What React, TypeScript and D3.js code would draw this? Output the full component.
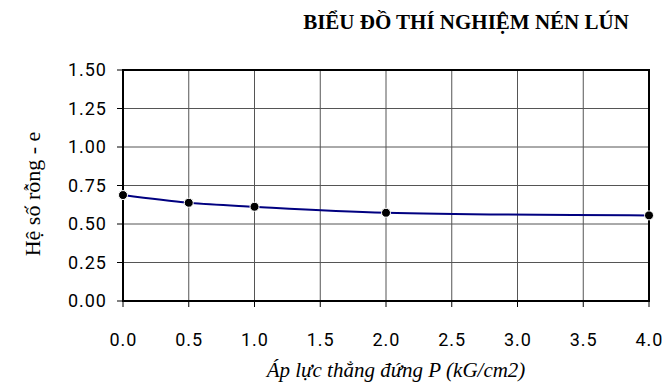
import React from "react";
import * as d3 from "d3";

const pressures = [0, 0.5, 1, 2, 4];
const voidRatios = [0.688, 0.638, 0.612, 0.573, 0.556];
const xTicks = [0, 0.5, 1, 1.5, 2, 2.5, 3, 3.5, 4];
const yTicks = [0, 0.25, 0.5, 0.75, 1, 1.25, 1.5];
const title = "BIỂU ĐỒ THÍ NGHIỆM NÉN LÚN";
const xLabel = "Áp lực thẳng đứng P (kG/cm2)";
const yLabel = "Hệ số rỗng - e";

export default function App() {
  const W = 672, H = 390;
  const left = 123, right = 649, top = 70, bottom = 301;
  const x = d3.scaleLinear().domain([0, 4]).range([left, right]);
  const y = d3.scaleLinear().domain([0, 1.5]).range([bottom, top]);
  const pts = pressures.map((p, i) => [p, voidRatios[i]] as [number, number]);
  const line = d3.line<[number, number]>()
    .x(d => x(d[0])).y(d => y(d[1]))
    .curve(d3.curveCatmullRom.alpha(0.5));
  const tickFont = "Roboto, 'Noto Sans', sans-serif";
  const serif = "'Liberation Serif', 'Times New Roman', serif";
  return (
    <svg width={W} height={H} style={{ position: "absolute", left: 0, top: 0, background: "#fff" }}>
      <text x={466} y={29} textAnchor="middle" fontFamily={serif} fontWeight="bold" fontSize={21} fill="#000">{title}</text>
      {yTicks.map(t => (
        <g key={"y" + t}>
          <line x1={left} x2={right} y1={y(t)} y2={y(t)} stroke="#555" strokeWidth={1} />
          <line x1={left - 6} x2={left} y1={y(t)} y2={y(t)} stroke="#000" strokeWidth={1} />
          <text x={107} y={y(t)} dy="0.35em" textAnchor="end" fontFamily={tickFont} fontSize={18} letterSpacing={1} fill="#000">{t.toFixed(2)}</text>
        </g>
      ))}
      {xTicks.map(t => (
        <g key={"x" + t}>
          <line x1={x(t)} x2={x(t)} y1={top} y2={bottom} stroke="#555" strokeWidth={1} />
          <line x1={x(t)} x2={x(t)} y1={bottom} y2={bottom + 6} stroke="#000" strokeWidth={1} />
          <text x={x(t) + 0.5} y={340} dy="0.35em" textAnchor="middle" fontFamily={tickFont} fontSize={18} letterSpacing={1} fill="#000">{t.toFixed(1)}</text>
        </g>
      ))}
      <rect x={left} y={top} width={right - left} height={bottom - top} fill="none" stroke="#000" strokeWidth={2} />
      <path d={line(pts) || ""} fill="none" stroke="#000080" strokeWidth={2} />
      {pts.map((d, i) => (
        <circle key={i} cx={x(d[0])} cy={y(d[1])} r={4.5} fill="#000" stroke="#fff" strokeWidth={1} />
      ))}
      <text transform={`translate(40,194) rotate(-90)`} textAnchor="middle" fontFamily={serif} fontSize={22} fill="#000">{yLabel}</text>
      <text x={396} y={377} textAnchor="middle" fontFamily={serif} fontStyle="italic" fontSize={21} fill="#000">{xLabel}</text>
    </svg>
  );
}
